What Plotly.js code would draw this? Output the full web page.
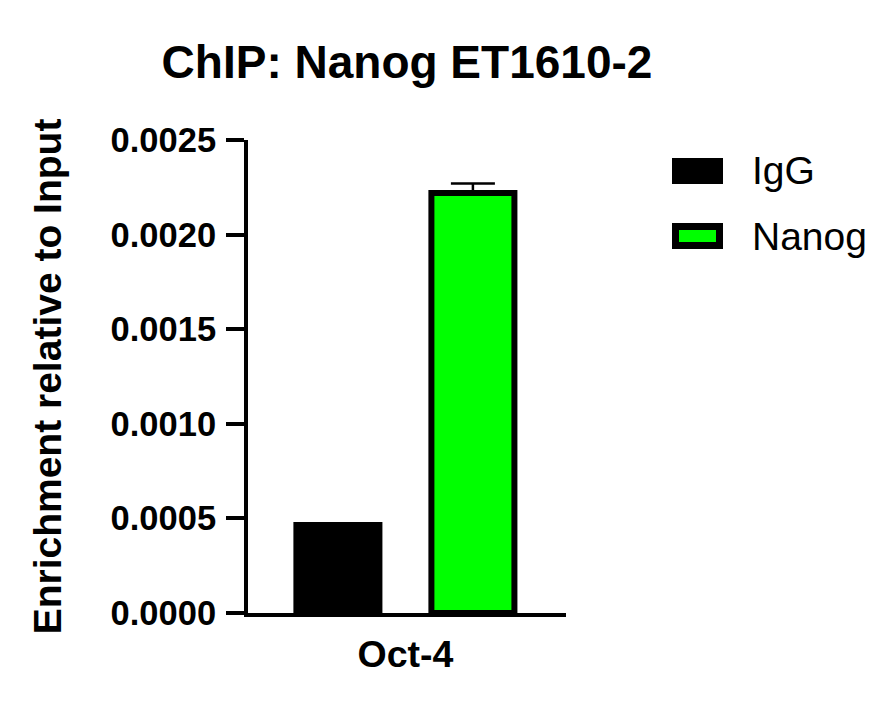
<!DOCTYPE html>
<html>
<head>
<meta charset="utf-8">
<script src="https://cdn.plot.ly/plotly-3.0.1.min.js"></script>
<style>
  html, body { margin: 0; padding: 0; background: #fff; }
  #chart { width: 888px; height: 711px; }
</style>
</head>
<body>
<div id="chart"></div>
<script>
// ---- data ----
const categories = ['Oct-4'];
const seriesNames = ['IgG', 'Nanog'];
const iggValues = [0.000465];
const nanogValues = [0.00222];
const nanogErrorUp = [0.00005];
const yTickValues = [0, 0.0005, 0.0010, 0.0015, 0.0020, 0.0025];
const chartTitle = 'ChIP: Nanog ET1610-2';
const yTitle = 'Enrichment relative to Input';

// ---- layout geometry (pixels) ----
const W = 888, H = 711;
const plotL = 248, plotR = 566, plotT = 140, plotB = 613;
const px2x = X => (X - plotL) / (plotR - plotL);
const px2y = Y => (plotB - Y) / (plotB - plotT);

const FONT = 'Liberation Sans, Arial, Helvetica, sans-serif';
const green = '#00ff00';

const traces = [
  {
    type: 'bar', name: seriesNames[0], x: categories, y: iggValues,
    marker: { color: '#000000', line: { color: '#000000', width: 6 } },
    showlegend: false
  },
  {
    type: 'bar', name: seriesNames[1], x: categories, y: nanogValues,
    marker: { color: green, line: { color: '#000000', width: 6 } },
    error_y: { type: 'data', symmetric: false, array: nanogErrorUp, arrayminus: [0],
               color: '#000000', thickness: 2.5, width: 22 },
    showlegend: false
  }
];

// custom legend built from the series names
const legendColors = ['#000000', green];
const legendRows = [171, 236];
const shapes = [];
const annotations = [];
seriesNames.forEach((nm, i) => {
  const cy = legendRows[i];
  shapes.push({
    type: 'rect', xref: 'paper', yref: 'paper',
    x0: px2x(675.5), x1: px2x(719.5), y0: px2y(cy - 9.5), y1: px2y(cy + 9.5),
    fillcolor: legendColors[i], line: { color: '#000000', width: 7 }
  });
  annotations.push({
    xref: 'paper', yref: 'paper', x: px2x(750), y: px2y(cy),
    xanchor: 'left', yanchor: 'middle', showarrow: false, text: nm,
    font: { family: FONT, size: 39, color: '#000000' }
  });
});

const layout = {
  width: W, height: H,
  margin: { l: plotL, r: W - plotR, t: plotT, b: H - plotB, pad: 0 },
  paper_bgcolor: '#ffffff', plot_bgcolor: '#ffffff',
  showlegend: false,
  barmode: 'group', bargap: 0.151, bargroupgap: 0.385,
  title: {
    text: '<b>' + chartTitle + '</b>',
    x: 0.5, xref: 'paper', xanchor: 'center',
    y: 1 - 62 / H, yref: 'container', yanchor: 'middle',
    font: { family: FONT, size: 46, color: '#000000' }
  },
  xaxis: {
    type: 'category', range: [-0.495, 0.505],
    showline: true, linecolor: '#000000', linewidth: 4,
    ticks: '', showgrid: false, zeroline: false,
    tickfont: { family: FONT, size: 37.5, color: '#000000', weight: 'bold' },
    ticklabelstandoff: 5,
    fixedrange: true
  },
  yaxis: {
    range: [0, 0.0025],
    tickvals: yTickValues,
    tickformat: '.4f',
    showline: true, linecolor: '#000000', linewidth: 4,
    ticks: 'outside', ticklen: 18, tickwidth: 4, tickcolor: '#000000',
    showgrid: false, zeroline: false,
    tickfont: { family: FONT, size: 34.5, color: '#000000', weight: 'bold' },
    ticklabelstandoff: 3,
    title: { text: '<b>' + yTitle + '</b>', standoff: 38,
             font: { family: FONT, size: 39, color: '#000000' } },
    fixedrange: true
  },
  shapes: shapes,
  annotations: annotations
};

Plotly.newPlot('chart', traces, layout, { displayModeBar: false, staticPlot: true });
</script>
</body>
</html>
